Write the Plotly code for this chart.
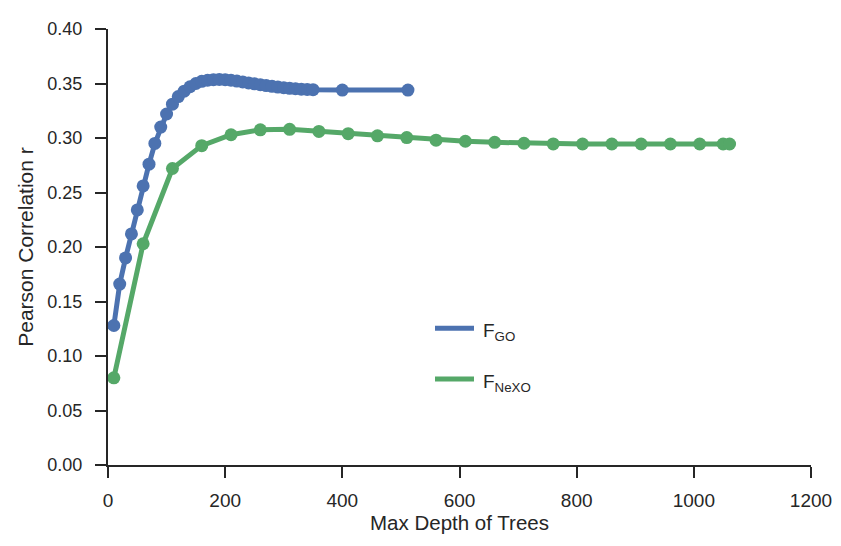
import plotly.graph_objects as go

# Data
go_depth = [10, 20, 30, 40, 50, 60, 70, 80, 90, 100, 110, 120, 130, 140, 150, 160, 170, 180,
            190, 200, 210, 220, 230, 240, 250, 260, 270, 280, 290, 300, 310, 320, 330, 340,
            350, 400, 512]
go_r = [0.128, 0.166, 0.190, 0.212, 0.234, 0.256, 0.276, 0.295, 0.310, 0.322, 0.331, 0.338,
        0.343, 0.347, 0.350, 0.352, 0.353, 0.3535, 0.3537, 0.3535, 0.353, 0.3522, 0.3514,
        0.3505, 0.3497, 0.3489, 0.3481, 0.3474, 0.3467, 0.3461, 0.3456, 0.3452, 0.3448,
        0.3445, 0.3443, 0.3440, 0.3440]

nexo_depth = [10, 60, 110, 160, 210, 260, 310, 360, 410, 460, 510, 560, 610, 660, 710, 760,
              810, 860, 910, 960, 1010, 1050, 1061]
nexo_r = [0.080, 0.203, 0.272, 0.293, 0.303, 0.3075, 0.308, 0.306, 0.304, 0.302, 0.3004,
          0.298, 0.297, 0.296, 0.2952, 0.2946, 0.2945, 0.2945, 0.2945, 0.2945, 0.2945,
          0.2945, 0.2945]

x_ticks = [0, 200, 400, 600, 800, 1000, 1200]
y_ticks = [0.00, 0.05, 0.10, 0.15, 0.20, 0.25, 0.30, 0.35, 0.40]

BLUE = "#4C72B0"
GREEN = "#55A868"
TXT = "#262626"
FONT = "Liberation Sans, Arial, sans-serif"

fig = go.Figure()
fig.add_trace(go.Scatter(x=go_depth, y=go_r, mode="lines+markers",
                         line=dict(color=BLUE, width=5),
                         marker=dict(color=BLUE, size=13), showlegend=False))
fig.add_trace(go.Scatter(x=nexo_depth, y=nexo_r, mode="lines+markers",
                         line=dict(color=GREEN, width=5),
                         marker=dict(color=GREEN, size=13), showlegend=False))

# Manual legend (positions given relative to the plot area)
def px_x(p):
    return (p - 108) / 703.0

def px_y(p):
    return (465 - p) / 446.0

for color, ly, label in [(BLUE, 325, "F<sub>GO</sub>"), (GREEN, 377, "F<sub>NeXO</sub>")]:
    fig.add_shape(type="line", xref="paper", yref="paper",
                  x0=px_x(435), x1=px_x(474), y0=px_y(ly), y1=px_y(ly),
                  line=dict(color=color, width=5))
    fig.add_annotation(xref="paper", yref="paper", x=px_x(481), y=px_y(ly + 4),
                       xanchor="left", yanchor="middle", text=label, showarrow=False,
                       font=dict(family=FONT, size=19, color=TXT))

axis_common = dict(showline=True, linewidth=2, linecolor=TXT, ticks="outside",
                   ticklen=11, tickwidth=2, tickcolor=TXT, showgrid=False, zeroline=False,
                   mirror=False)

fig.update_xaxes(range=[0, 1200], tickvals=x_ticks, ticktext=[str(v) for v in x_ticks],
                 tickfont=dict(family=FONT, size=19, color=TXT),
                 title=dict(text="Max Depth of Trees", font=dict(family=FONT, size=20.5, color=TXT),
                            standoff=0),
                 ticklabelstandoff=6, **axis_common)
fig.update_yaxes(range=[0, 0.40], tickvals=y_ticks, ticktext=[f"{v:.2f}" for v in y_ticks],
                 tickfont=dict(family=FONT, size=18, color=TXT),
                 title=dict(text="Pearson Correlation r", font=dict(family=FONT, size=21, color=TXT),
                            standoff=8),
                 ticklabelstandoff=9, **axis_common)

fig.update_layout(width=841, height=546, margin=dict(l=100, r=38, t=11, b=89),
                  plot_bgcolor="white", paper_bgcolor="white",
                  font=dict(family=FONT, color=TXT))

fig.write_html("out.html")
